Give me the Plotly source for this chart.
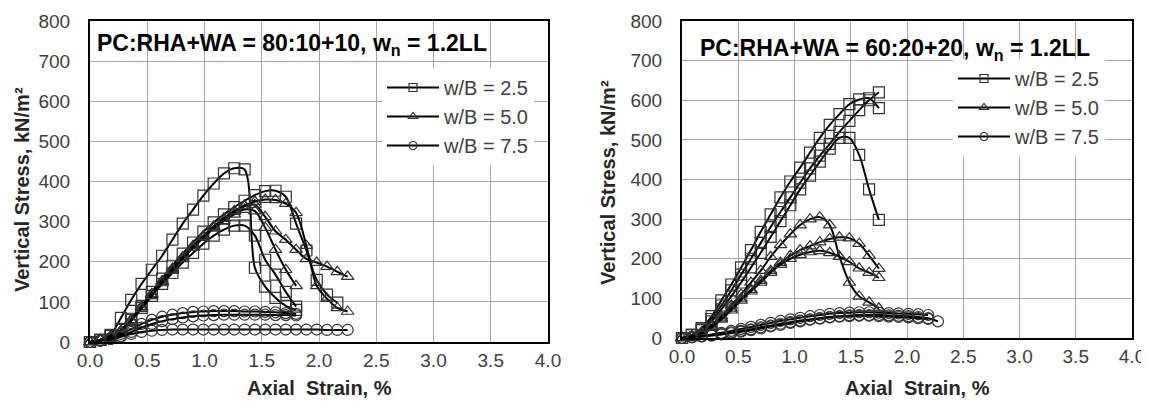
import plotly.graph_objects as go

# ---------------- DATA ----------------
# Left panel: PC:RHA+WA = 80:10+10 (axial strain grid, %)
XL = [0.00, 0.09, 0.18, 0.27, 0.36, 0.45, 0.54, 0.63, 0.72, 0.81, 0.90, 0.99, 1.08,
      1.17, 1.26, 1.35, 1.44, 1.53, 1.62, 1.71, 1.80, 1.89, 1.98, 2.07, 2.16, 2.25]

L_SQ_A = [0, 6, 18, 60, 105, 145, 180, 215, 255, 295, 330, 365, 395, 420, 433, 430,
          185, 138, 110, 90, 80]
L_SQ_B = [0, 5, 15, 30, 55, 85, 115, 145, 172, 198, 222, 245, 265, 280, 290, 290,
          265, 205, 168, 125, 88]
L_SQ_C = [0, 5, 15, 30, 58, 90, 125, 158, 190, 220, 248, 275, 298, 318, 336, 352,
          366, 376, 377, 362, 295, 228, 155, 118, 98]
L_TR_A = [0, 5, 14, 28, 55, 88, 120, 152, 183, 212, 240, 265, 288, 308, 325, 338,
          342, 312, 276, 255, 230, 207, 198, 188, 175, 163]
L_TR_B = [0, 5, 14, 28, 55, 87, 118, 150, 180, 208, 235, 260, 283, 302, 318, 330,
          326, 285, 230, 180, 140]
L_TR_C = [0, 5, 13, 26, 52, 83, 115, 147, 178, 207, 235, 262, 287, 308, 326, 340,
          350, 355, 354, 345, 322, 240, 140, 108, 85, 76]
L_CI_A = [0, 4, 10, 20, 32, 45, 55, 63, 68, 72, 75, 76, 77, 77, 77, 76, 76, 75, 74, 72, 70]
L_CI_B = [0, 3, 8, 15, 25, 36, 45, 52, 57, 61, 64, 66, 67, 68, 68, 68, 68, 68, 67, 67, 66]
L_CI_C = [0, 3, 7, 13, 20, 25, 28, 30, 31, 31, 31, 31, 31, 31, 31, 31, 31, 31, 31, 31,
          31, 31, 31, 30, 30, 30]

# Right panel: PC:RHA+WA = 60:20+20
XR = [0.000, 0.088, 0.175, 0.263, 0.350, 0.438, 0.525, 0.613, 0.700, 0.788, 0.875,
      0.963, 1.050, 1.138, 1.225, 1.313, 1.400, 1.488, 1.575, 1.663, 1.750, 1.838,
      1.925, 2.013, 2.100, 2.188, 2.275]

R_SQ_A = [0, 8, 25, 55, 95, 135, 178, 222, 268, 312, 355, 395, 430, 468, 505, 538,
          565, 590, 602, 605, 580]
R_SQ_B = [0, 8, 22, 48, 82, 120, 160, 200, 240, 280, 318, 355, 392, 428, 460, 490,
          520, 548, 575, 600, 620]
R_SQ_C = [0, 7, 20, 42, 72, 105, 140, 178, 215, 255, 295, 335, 375, 410, 445, 478,
          505, 505, 462, 375, 298]
R_TR_A = [0, 5, 15, 32, 55, 82, 110, 140, 170, 205, 235, 262, 285, 300, 305, 285,
          205, 140, 105, 90, 75]
R_TR_B = [0, 4, 12, 28, 50, 75, 100, 122, 145, 170, 190, 208, 222, 232, 242, 250,
          254, 252, 238, 208, 175]
R_TR_C = [0, 4, 12, 26, 47, 70, 95, 118, 140, 165, 185, 200, 210, 217, 220, 215,
          205, 192, 176, 165, 152]
R_CI_A = [0, 2, 5, 9, 13, 18, 23, 28, 33, 38, 43, 47, 51, 55, 58, 61, 63, 64, 65, 65,
          64, 63, 62, 61, 60, 58]
R_CI_B = [0, 2, 4, 7, 10, 14, 18, 22, 27, 31, 36, 40, 44, 47, 50, 53, 55, 57, 58, 58,
          58, 57, 56, 55, 53, 50, 42]
R_CI_C = [0, 2, 4, 6, 9, 12, 16, 20, 24, 29, 33, 38, 42, 46, 49, 52, 54, 55, 56, 56,
          55, 54, 53, 52, 50, 48]

LEGEND_LABELS = ["w/B = 2.5", "w/B = 5.0", "w/B = 7.5"]
TITLES = ["PC:RHA+WA = 80:10+10, w<sub>n</sub> = 1.2LL",
          "PC:RHA+WA = 60:20+20, w<sub>n</sub> = 1.2LL"]
X_TICKS = [0.0, 0.5, 1.0, 1.5, 2.0, 2.5, 3.0, 3.5, 4.0]
Y_TICKS = [0, 100, 200, 300, 400, 500, 600, 700, 800]
X_TITLE = "Axial  Strain, %"
Y_TITLE = "Vertical Stress, kN/m\u00b2"

# ---------------- LAYOUT HELPERS ----------------
# The page body has an 8px margin, so the figure is 8px smaller than the window.
W, H, OFF = 1141, 399, 8


def px(xr):
    return (xr - OFF) / W


def py(yr):
    return (H - (yr - OFF)) / H


FONT = "Liberation Sans, Arial, sans-serif"
SYMBOLS = ["square-open", "triangle-up-open", "circle-open"]

panels = [
    ("x", "y", XL, [[L_SQ_A, L_SQ_B, L_SQ_C], [L_TR_A, L_TR_B, L_TR_C], [L_CI_A, L_CI_B, L_CI_C]], "legend"),
    ("x2", "y2", XR, [[R_SQ_A, R_SQ_B, R_SQ_C], [R_TR_A, R_TR_B, R_TR_C], [R_CI_A, R_CI_B, R_CI_C]], "legend2"),
]

fig = go.Figure()
for xa, ya, xs, groups, leg in panels:
    for gi, group in enumerate(groups):
        for ys in group:
            fig.add_trace(go.Scatter(
                x=xs[:len(ys)], y=ys, xaxis=xa, yaxis=ya, mode="lines+markers",
                line=dict(color="black", width=2, shape="spline", smoothing=0.9),
                marker=dict(symbol=SYMBOLS[gi], size=11, color="#333333",
                            line=dict(width=1.2, color="#333333")),
                showlegend=False, cliponaxis=False, hoverinfo="skip"))
    for gi, lab in enumerate(LEGEND_LABELS):
        fig.add_trace(go.Scatter(
            x=[None], y=[None], xaxis=xa, yaxis=ya, mode="lines+markers", name=lab,
            line=dict(color="black", width=2),
            marker=dict(symbol=SYMBOLS[gi], size=8, color="#333333",
                        line=dict(width=1.2, color="#333333")),
            legend=leg, showlegend=True))

axis_common = dict(showgrid=True, gridcolor="#a6a6a6", gridwidth=1,
                   showline=True, linecolor="black", linewidth=2, mirror=True,
                   zeroline=False, ticks="", automargin=False,
                   tickfont=dict(family=FONT, size=19, color="#404040"))
xcommon = dict(axis_common, range=[0, 4], tickvals=X_TICKS, tickformat=".1f",
               ticklabelstandoff=0)
ycommon = dict(axis_common, range=[0, 800], tickvals=Y_TICKS, ticklabelstandoff=14)

legend_common = dict(xanchor="left", yanchor="top", bgcolor="white", borderwidth=0,
                     tracegroupgap=0, itemwidth=52,
                     font=dict(family=FONT, size=20, color="#404040"))

fig.update_layout(
    width=W, height=H, margin=dict(l=0, r=0, t=0, b=0),
    paper_bgcolor="white", plot_bgcolor="white",
    xaxis=dict(xcommon, domain=[px(90), px(548)], anchor="y"),
    yaxis=dict(ycommon, domain=[py(342), py(21)], anchor="x"),
    xaxis2=dict(xcommon, domain=[px(682), px(1132)], anchor="y2"),
    yaxis2=dict(ycommon, domain=[py(338), py(21)], anchor="x2"),
    legend=dict(legend_common, x=px(382), y=py(68)),
    legend2=dict(legend_common, x=px(953), y=py(59)),
    showlegend=True,
)

title_font = dict(family=FONT, size=23, color="black")
fig.add_annotation(text="<b>" + TITLES[0] + "</b>", xref="paper", yref="paper",
                   x=px(95), y=py(44), xanchor="left", yanchor="middle",
                   showarrow=False, font=title_font)
fig.add_annotation(text="<b>" + TITLES[1] + "</b>", xref="paper", yref="paper",
                   x=px(698), y=py(49), xanchor="left", yanchor="middle",
                   showarrow=False, font=title_font)

axis_title_font = dict(family=FONT, size=20, color="#262626")
for xc, yc in [(319, 388), (918, 388)]:
    fig.add_annotation(text="<b>" + X_TITLE + "</b>", xref="paper", yref="paper",
                       x=px(xc), y=py(yc), xanchor="center", yanchor="middle",
                       showarrow=False, font=axis_title_font)
for xc, yc in [(22, 190), (608, 183)]:
    fig.add_annotation(text="<b>" + Y_TITLE + "</b>", xref="paper", yref="paper",
                       x=px(xc), y=py(yc), xanchor="center", yanchor="middle",
                       textangle=-90, showarrow=False, font=axis_title_font)

fig.write_html("out.html")
